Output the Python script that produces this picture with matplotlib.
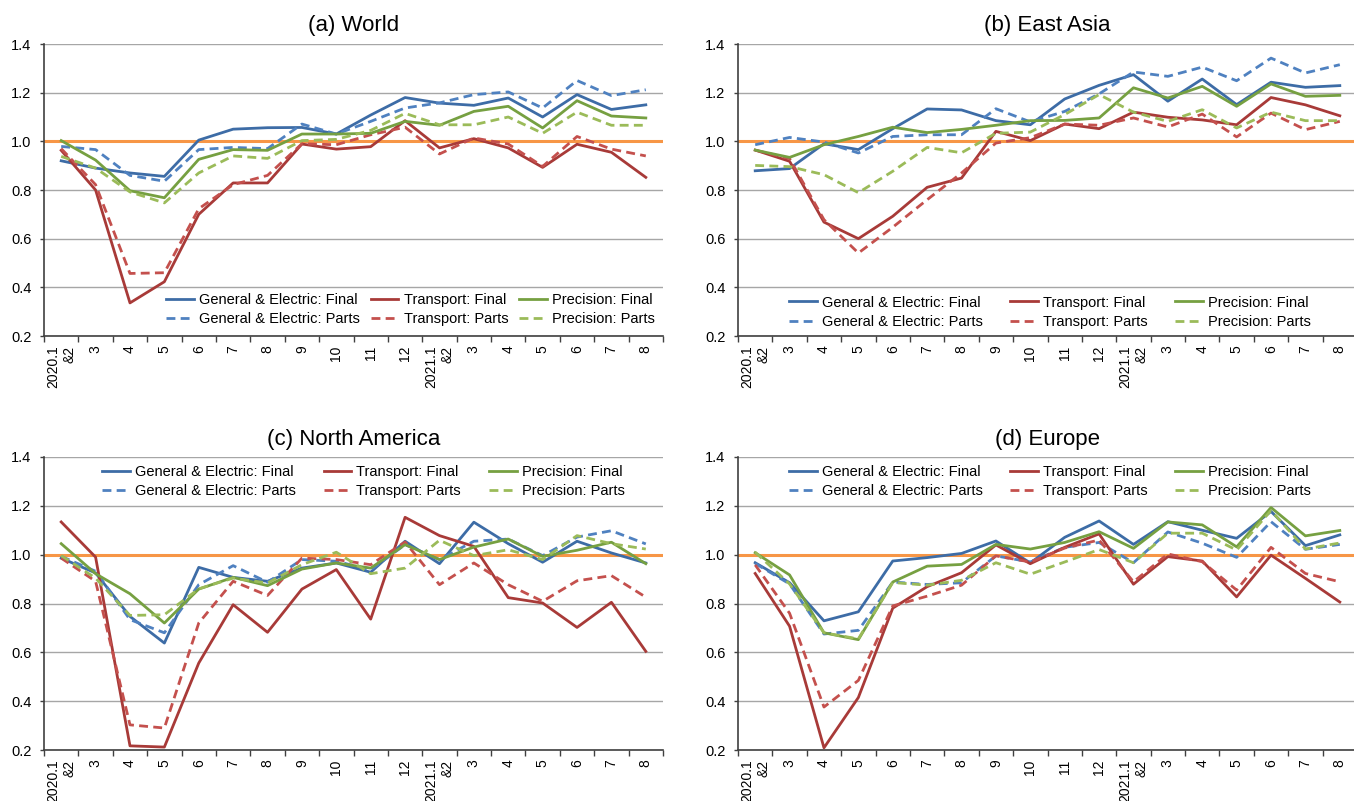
import matplotlib.pyplot as plt
import numpy as np

plt.rcParams['font.family'] = ['Liberation Sans', 'DejaVu Sans']

months = ["2020.1\n&2", "3", "4", "5", "6", "7", "8", "9", "10", "11", "12",
          "2021.1\n&2", "3", "4", "5", "6", "7", "8"]

# (a) World
world_ge_final = [0.92, 0.89, 0.87, 0.856, 1.005, 1.05, 1.056, 1.057, 1.03, 1.108,
                  1.18, 1.157, 1.148, 1.178, 1.10, 1.192, 1.131, 1.15]
world_ge_parts = [0.979, 0.966, 0.86, 0.836, 0.966, 0.975, 0.97, 1.071, 1.03, 1.082,
                  1.137, 1.158, 1.192, 1.203, 1.137, 1.25, 1.188, 1.212]
world_tr_final = [0.963, 0.80, 0.336, 0.423, 0.70, 0.829, 0.829, 0.989, 0.968, 0.978,
                  1.085, 0.973, 1.011, 0.973, 0.893, 0.988, 0.955, 0.852]
world_tr_parts = [0.97, 0.822, 0.457, 0.46, 0.723, 0.822, 0.86, 0.99, 0.986, 1.027,
                  1.058, 0.948, 1.014, 0.989, 0.897, 1.02, 0.968, 0.94]
world_pr_final = [1.003, 0.923, 0.797, 0.768, 0.926, 0.966, 0.963, 1.03, 1.03, 1.033,
                  1.082, 1.066, 1.123, 1.144, 1.055, 1.167, 1.104, 1.096]
world_pr_parts = [0.938, 0.89, 0.792, 0.747, 0.87, 0.94, 0.93, 1.003, 1.008, 1.045,
                  1.115, 1.068, 1.068, 1.10, 1.033, 1.12, 1.066, 1.066]

# (b) East Asia
asia_ge_final = [0.879, 0.888, 0.99, 0.966, 1.052, 1.133, 1.129, 1.085, 1.068, 1.174,
                 1.23, 1.274, 1.165, 1.256, 1.151, 1.243, 1.222, 1.229]
asia_ge_parts = [0.986, 1.016, 0.997, 0.952, 1.02, 1.027, 1.027, 1.134, 1.08, 1.123,
                 1.195, 1.285, 1.267, 1.305, 1.249, 1.342, 1.281, 1.315]
asia_tr_final = [0.964, 0.918, 0.668, 0.60, 0.692, 0.811, 0.849, 1.041, 1.003, 1.071,
                 1.052, 1.12, 1.099, 1.088, 1.068, 1.18, 1.15, 1.105]
asia_tr_parts = [0.964, 0.929, 0.678, 0.541, 0.647, 0.76, 0.87, 0.993, 1.015, 1.071,
                 1.066, 1.096, 1.059, 1.112, 1.018, 1.116, 1.048, 1.082]
asia_pr_final = [0.964, 0.934, 0.986, 1.02, 1.058, 1.036, 1.049, 1.066, 1.085, 1.086,
                 1.096, 1.22, 1.178, 1.226, 1.144, 1.236, 1.185, 1.189]
asia_pr_parts = [0.901, 0.896, 0.863, 0.789, 0.877, 0.975, 0.953, 1.033, 1.038, 1.11,
                 1.192, 1.12, 1.082, 1.13, 1.055, 1.12, 1.085, 1.085]

# (c) North America
na_ge_final = [0.986, 0.925, 0.747, 0.638, 0.948, 0.907, 0.891, 0.945, 0.966, 0.928,
               1.055, 0.963, 1.133, 1.045, 0.969, 1.055, 1.007, 0.966]
na_ge_parts = [0.993, 0.932, 0.734, 0.68, 0.877, 0.955, 0.887, 0.98, 0.973, 0.938,
               1.041, 0.98, 1.055, 1.064, 0.996, 1.072, 1.098, 1.044]
na_tr_final = [1.134, 0.99, 0.217, 0.212, 0.556, 0.795, 0.682, 0.859, 0.939, 0.736,
               1.153, 1.078, 1.034, 0.824, 0.802, 0.702, 0.805, 0.604]
na_tr_parts = [0.986, 0.891, 0.303, 0.29, 0.72, 0.891, 0.833, 0.986, 0.98, 0.959,
               1.052, 0.877, 0.966, 0.877, 0.809, 0.893, 0.914, 0.826]
na_pr_final = [1.045, 0.922, 0.84, 0.72, 0.859, 0.907, 0.873, 0.941, 0.966, 0.945,
               1.041, 0.98, 1.031, 1.064, 0.993, 1.018, 1.051, 0.963]
na_pr_parts = [0.996, 0.904, 0.751, 0.754, 0.86, 0.904, 0.884, 0.959, 1.01, 0.922,
               0.945, 1.059, 0.996, 1.02, 0.98, 1.078, 1.045, 1.023]

# (d) Europe
eu_ge_final = [0.967, 0.885, 0.729, 0.766, 0.974, 0.988, 1.005, 1.056, 0.966, 1.071,
               1.138, 1.042, 1.135, 1.10, 1.067, 1.177, 1.037, 1.081]
eu_ge_parts = [0.964, 0.88, 0.675, 0.69, 0.888, 0.878, 0.885, 0.995, 0.97, 1.03,
               1.05, 0.967, 1.093, 1.047, 0.989, 1.135, 1.022, 1.042]
eu_tr_final = [0.923, 0.707, 0.209, 0.415, 0.781, 0.869, 0.926, 1.04, 0.963, 1.03,
               1.085, 0.879, 0.992, 0.974, 0.827, 0.998, 0.903, 0.806]
eu_tr_parts = [0.958, 0.76, 0.376, 0.485, 0.79, 0.83, 0.875, 0.995, 0.97, 1.027,
               1.06, 0.889, 1.003, 0.971, 0.855, 1.03, 0.923, 0.889]
eu_pr_final = [1.008, 0.917, 0.68, 0.652, 0.888, 0.953, 0.96, 1.042, 1.023, 1.05,
               1.094, 1.026, 1.134, 1.122, 1.032, 1.193, 1.077, 1.099]
eu_pr_parts = [1.01, 0.88, 0.68, 0.655, 0.886, 0.875, 0.895, 0.967, 0.92, 0.97,
               1.021, 0.967, 1.088, 1.088, 1.019, 1.181, 1.023, 1.048]

labels = ["General & Electric: Final", "General & Electric: Parts",
          "Transport: Final", "Transport: Parts",
          "Precision: Final", "Precision: Parts"]
colors = ["#3d6ca6", "#4f81c0", "#a83a38", "#c4504d", "#76a041", "#9bbb59"]
dashed = [False, True, False, True, False, True]

panels = [
    ("(a) World", [world_ge_final, world_ge_parts, world_tr_final,
                   world_tr_parts, world_pr_final, world_pr_parts]),
    ("(b) East Asia", [asia_ge_final, asia_ge_parts, asia_tr_final,
                       asia_tr_parts, asia_pr_final, asia_pr_parts]),
    ("(c) North America", [na_ge_final, na_ge_parts, na_tr_final,
                           na_tr_parts, na_pr_final, na_pr_parts]),
    ("(d) Europe", [eu_ge_final, eu_ge_parts, eu_tr_final,
                    eu_tr_parts, eu_pr_final, eu_pr_parts]),
]

W, H = 1354, 801
fig = plt.figure(figsize=(W / 100, H / 100), dpi=100)

# axes boxes in pixels: left, top, width, height
boxes = [(44, 44, 619, 292), (738, 44, 619, 292),
         (44, 457, 619, 293), (738, 457, 619, 293)]
# legend centre (axes coords) and column spacing
legend_at = [(0.592, 0.09, 0.75), (0.504, 0.082, 1.9),
             (0.516, 0.917, 1.9), (0.504, 0.917, 1.9)]

x = np.arange(len(months)) + 0.5

for (title, series), (l, t, w, h), (lx, ly, cs) in zip(panels, boxes, legend_at):
    ax = fig.add_axes([l / W, (H - t - h) / H, w / W, h / H])
    ax.set_xlim(0, len(months))
    ax.set_ylim(0.2, 1.4)
    ax.set_yticks(np.arange(0.2, 1.41, 0.2))
    ax.yaxis.set_major_formatter(plt.FormatStrFormatter('%.1f'))
    ax.grid(axis='y', color='#a6a6a6', lw=1.0)
    ax.set_axisbelow(True)

    ax.axhline(1.0, color='#f79646', lw=2.2, zorder=2)
    for vals, lab, c, d in zip(series, labels, colors, dashed):
        ln, = ax.plot(x, vals, color=c, lw=2.0, label=lab, zorder=3)
        if d:
            ln.set_dashes((3.2, 1.9))

    ax.set_xticks(x)
    ax.set_xticklabels(months, rotation=90, va='top', ha='center',
                       multialignment='right', fontsize=10)
    ax.set_xticks(np.arange(len(months) + 1), minor=True)
    ax.tick_params(axis='x', which='major', length=0, pad=7)
    ax.tick_params(axis='x', which='minor', length=4, width=1, color='#404040')
    ax.tick_params(axis='y', length=3, width=1, color='#404040', pad=6,
                   labelsize=10.5)

    for side in ('top', 'right'):
        ax.spines[side].set_visible(False)
    for side in ('left', 'bottom'):
        ax.spines[side].set_color('#404040')
        ax.spines[side].set_linewidth(1.2)

    ax.set_title(title, fontsize=16, pad=9)
    ax.legend(loc='center', bbox_to_anchor=(lx, ly), ncol=3, frameon=False,
              fontsize=10.5, handlelength=1.9, handletextpad=0.35,
              columnspacing=cs, labelspacing=0.35, borderpad=0.2)

fig.savefig('out.png', dpi=100)
